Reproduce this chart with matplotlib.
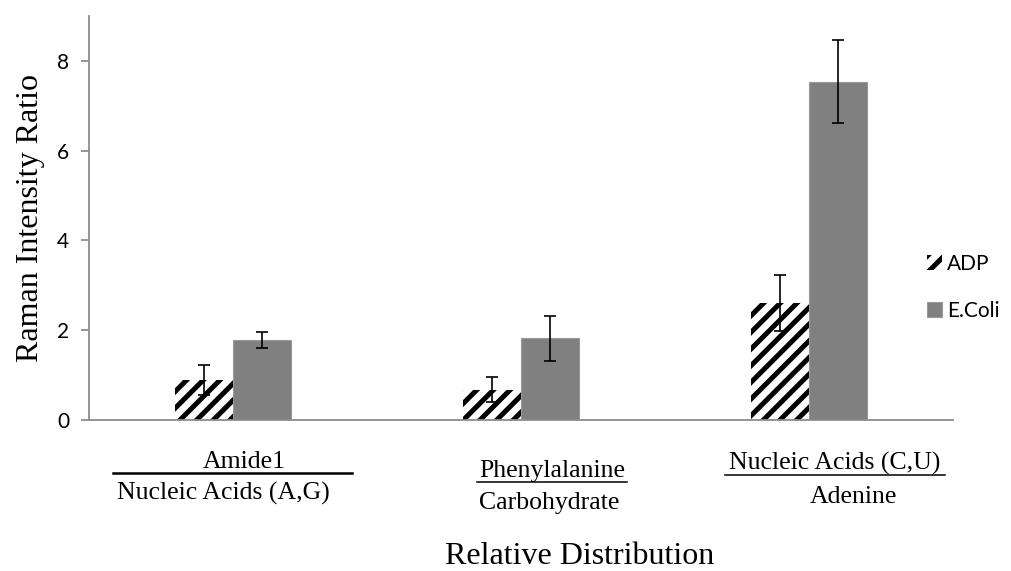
import matplotlib
matplotlib.use("Agg")
import matplotlib.pyplot as plt
import numpy as np
from matplotlib.lines import Line2D

# Raman intensity ratios per band pair
categories = ["Amide1 / Nucleic Acids (A,G)",
              "Phenylalanine / Carbohydrate",
              "Nucleic Acids (C,U) / Adenine"]
adp_vals = [0.89, 0.67, 2.60]
adp_err = [0.34, 0.28, 0.62]
ecoli_vals = [1.78, 1.82, 7.54]
ecoli_err = [0.18, 0.50, 0.93]
yticks = [0, 2, 4, 6, 8]

W, H = 1011, 571
AXIS_GREY = "#8c8c8c"
SERIF = "Liberation Serif"
SANS = "Lato"

plt.rcParams["hatch.linewidth"] = 3.6

fig = plt.figure(figsize=(W / 100, H / 100), dpi=100)
ax = fig.add_axes([89 / W, 1 - 420 / H, (953 - 89) / W, (420 - 16) / H])

x = np.arange(len(categories))
width = 0.2

# hatch takes the edge colour, so keep the edge black but zero width
ax.bar(x - width / 2, adp_vals, width, color="white", edgecolor="black",
       linewidth=0, hatch="//", label="ADP")
ax.bar(x + width / 2, ecoli_vals, width, color="#808080", edgecolor="#9a9a9a",
       linewidth=0.8, label="E.Coli")
ax.errorbar(x - width / 2, adp_vals, yerr=adp_err, fmt="none", ecolor="black",
            elinewidth=1.2, capsize=4.3, capthick=1.2)
ax.errorbar(x + width / 2, ecoli_vals, yerr=ecoli_err, fmt="none",
            ecolor="black", elinewidth=1.2, capsize=4.3, capthick=1.2)

ax.set_xlim(-0.5, len(categories) - 0.5)
ax.set_ylim(0, 9)
ax.set_yticks(yticks)
ax.set_yticklabels([str(v) for v in yticks], fontfamily=SANS, fontsize=15)
ax.set_xticks([])

for side in ("top", "right"):
    ax.spines[side].set_visible(False)
for side in ("left", "bottom"):
    ax.spines[side].set_color(AXIS_GREY)
    ax.spines[side].set_linewidth(1.3)
ax.tick_params(axis="y", length=5.8, width=1.3, color=AXIS_GREY, pad=8.5)

ax.set_ylabel("Raman Intensity Ratio", fontfamily=SERIF, fontsize=23,
              labelpad=9)

leg = ax.legend(loc="upper left", bbox_to_anchor=(927 / W, 1 - 254 / H),
                bbox_transform=fig.transFigure, frameon=False,
                prop={"family": SANS, "size": 15}, borderpad=0,
                borderaxespad=0, handlelength=0.73, handleheight=0.73,
                handletextpad=0.25, labelspacing=1.3)


def fig_text(px, py, s, size=18.5):
    fig.text(px / W, 1 - py / H, s, ha="center", va="center",
             fontfamily=SERIF, fontsize=size)


def fig_line(x0, x1, py, lw=1.4):
    fig.add_artist(Line2D([x0 / W, x1 / W], [1 - py / H, 1 - py / H],
                          transform=fig.transFigure, color="black", lw=lw))


# two-line category labels (upper band over lower band)
fig_text(244, 462, "Amide1")
fig_line(113, 352, 473, lw=1.8)
fig_text(223, 493, "Nucleic Acids (A,G)")

fig_text(552, 471, "Phenylalanine")
fig_line(477, 627, 482, lw=1.1)
fig_text(549, 503, "Carbohydrate")

fig_text(835, 463, "Nucleic Acids (C,U)")
fig_line(725, 945, 475, lw=1.1)
fig_text(853, 497, "Adenine")

fig_text(580, 557, "Relative Distribution", size=23)

fig.savefig("out.png", dpi=100)
